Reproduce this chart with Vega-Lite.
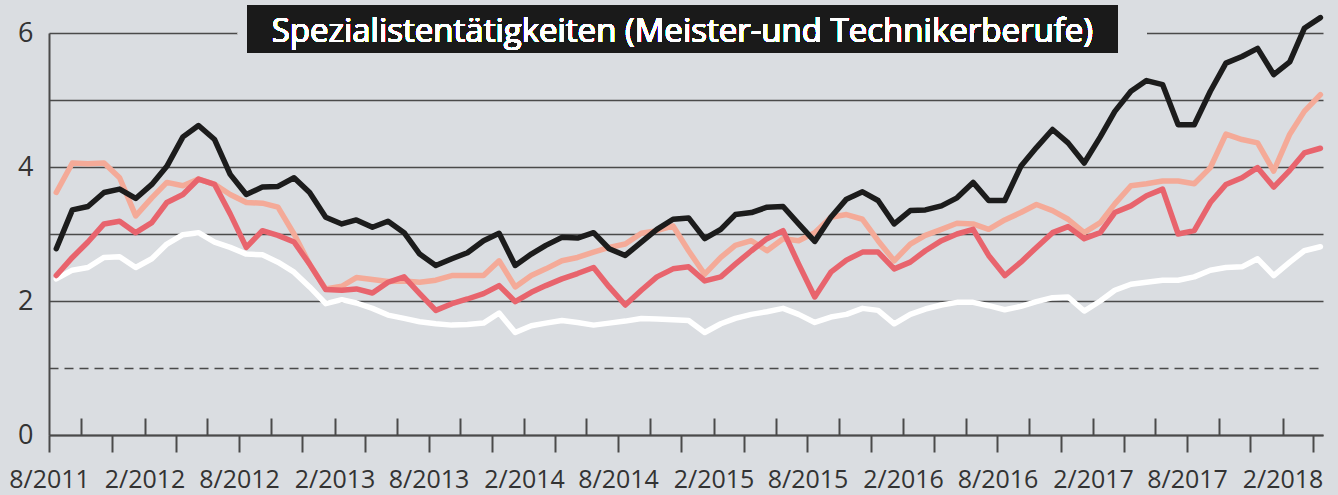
{
  "$schema": "https://vega.github.io/schema/vega-lite/v6.json",
  "autosize": {"type": "none"},
  "width": 1274,
  "height": 402,
  "padding": {"left": 49, "top": 33, "right": 15, "bottom": 60},
  "background": "#dadde1",
  "config": {"view": {"stroke": null}, "font": "Open Sans"},
  "resolve": {"axis": {"x": "independent"}},
  "data": {"values": [
    {"Monat":"2011/08/15","A":2.78,"B":3.62,"C":2.38,"D":2.33},
    {"Monat":"2011/09/15","A":3.36,"B":4.06,"C":2.65,"D":2.46},
    {"Monat":"2011/10/15","A":3.41,"B":4.05,"C":2.88,"D":2.50},
    {"Monat":"2011/11/15","A":3.62,"B":4.06,"C":3.15,"D":2.65},
    {"Monat":"2011/12/15","A":3.67,"B":3.84,"C":3.19,"D":2.66},
    {"Monat":"2012/01/15","A":3.53,"B":3.27,"C":3.02,"D":2.50},
    {"Monat":"2012/02/15","A":3.74,"B":3.54,"C":3.17,"D":2.63},
    {"Monat":"2012/03/15","A":4.01,"B":3.77,"C":3.47,"D":2.85},
    {"Monat":"2012/04/15","A":4.45,"B":3.72,"C":3.59,"D":2.99},
    {"Monat":"2012/05/15","A":4.62,"B":3.82,"C":3.82,"D":3.02},
    {"Monat":"2012/06/15","A":4.41,"B":3.74,"C":3.74,"D":2.88},
    {"Monat":"2012/07/15","A":3.89,"B":3.59,"C":3.30,"D":2.80},
    {"Monat":"2012/08/15","A":3.59,"B":3.47,"C":2.80,"D":2.70},
    {"Monat":"2012/09/15","A":3.70,"B":3.46,"C":3.05,"D":2.69},
    {"Monat":"2012/10/15","A":3.71,"B":3.40,"C":2.98,"D":2.58},
    {"Monat":"2012/11/15","A":3.84,"B":3.00,"C":2.88,"D":2.43},
    {"Monat":"2012/12/15","A":3.62,"B":2.55,"C":2.55,"D":2.21},
    {"Monat":"2013/01/15","A":3.25,"B":2.18,"C":2.17,"D":1.96},
    {"Monat":"2013/02/15","A":3.15,"B":2.22,"C":2.16,"D":2.02},
    {"Monat":"2013/03/15","A":3.21,"B":2.35,"C":2.18,"D":1.97},
    {"Monat":"2013/04/15","A":3.10,"B":2.32,"C":2.12,"D":1.89},
    {"Monat":"2013/05/15","A":3.19,"B":2.29,"C":2.28,"D":1.79},
    {"Monat":"2013/06/15","A":3.02,"B":2.30,"C":2.36,"D":1.74},
    {"Monat":"2013/07/15","A":2.70,"B":2.28,"C":2.11,"D":1.69},
    {"Monat":"2013/08/15","A":2.53,"B":2.31,"C":1.86,"D":1.66},
    {"Monat":"2013/09/15","A":2.63,"B":2.38,"C":1.96,"D":1.64},
    {"Monat":"2013/10/15","A":2.72,"B":2.38,"C":2.03,"D":1.65},
    {"Monat":"2013/11/15","A":2.90,"B":2.38,"C":2.11,"D":1.67},
    {"Monat":"2013/12/15","A":3.01,"B":2.60,"C":2.23,"D":1.82},
    {"Monat":"2014/01/15","A":2.53,"B":2.21,"C":1.99,"D":1.53},
    {"Monat":"2014/02/15","A":2.70,"B":2.38,"C":2.13,"D":1.63},
    {"Monat":"2014/03/15","A":2.83,"B":2.48,"C":2.23,"D":1.67},
    {"Monat":"2014/04/15","A":2.95,"B":2.60,"C":2.33,"D":1.71},
    {"Monat":"2014/05/15","A":2.94,"B":2.65,"C":2.41,"D":1.68},
    {"Monat":"2014/06/15","A":3.02,"B":2.73,"C":2.50,"D":1.64},
    {"Monat":"2014/07/15","A":2.78,"B":2.80,"C":2.21,"D":1.67},
    {"Monat":"2014/08/15","A":2.68,"B":2.85,"C":1.94,"D":1.70},
    {"Monat":"2014/09/15","A":2.88,"B":3.01,"C":2.16,"D":1.74},
    {"Monat":"2014/10/15","A":3.07,"B":3.05,"C":2.36,"D":1.73},
    {"Monat":"2014/11/15","A":3.22,"B":3.12,"C":2.48,"D":1.72},
    {"Monat":"2014/12/15","A":3.24,"B":2.75,"C":2.51,"D":1.71},
    {"Monat":"2015/01/15","A":2.93,"B":2.40,"C":2.30,"D":1.53},
    {"Monat":"2015/02/15","A":3.07,"B":2.65,"C":2.36,"D":1.66},
    {"Monat":"2015/03/15","A":3.29,"B":2.83,"C":2.55,"D":1.74},
    {"Monat":"2015/04/15","A":3.32,"B":2.90,"C":2.75,"D":1.80},
    {"Monat":"2015/05/15","A":3.40,"B":2.75,"C":2.93,"D":1.84},
    {"Monat":"2015/06/15","A":3.41,"B":2.93,"C":3.05,"D":1.89},
    {"Monat":"2015/07/15","A":3.15,"B":2.90,"C":2.55,"D":1.80},
    {"Monat":"2015/08/15","A":2.89,"B":3.02,"C":2.06,"D":1.68},
    {"Monat":"2015/09/15","A":3.25,"B":3.25,"C":2.43,"D":1.76},
    {"Monat":"2015/10/15","A":3.52,"B":3.29,"C":2.61,"D":1.80},
    {"Monat":"2015/11/15","A":3.63,"B":3.22,"C":2.73,"D":1.89},
    {"Monat":"2015/12/15","A":3.50,"B":2.90,"C":2.73,"D":1.86},
    {"Monat":"2016/01/15","A":3.15,"B":2.60,"C":2.48,"D":1.66},
    {"Monat":"2016/02/15","A":3.35,"B":2.85,"C":2.58,"D":1.80},
    {"Monat":"2016/03/15","A":3.36,"B":2.98,"C":2.75,"D":1.88},
    {"Monat":"2016/04/15","A":3.42,"B":3.07,"C":2.90,"D":1.94},
    {"Monat":"2016/05/15","A":3.54,"B":3.16,"C":3.00,"D":1.98},
    {"Monat":"2016/06/15","A":3.77,"B":3.15,"C":3.07,"D":1.98},
    {"Monat":"2016/07/15","A":3.50,"B":3.07,"C":2.68,"D":1.93},
    {"Monat":"2016/08/15","A":3.50,"B":3.21,"C":2.38,"D":1.87},
    {"Monat":"2016/09/15","A":4.01,"B":3.32,"C":2.58,"D":1.92},
    {"Monat":"2016/10/15","A":4.29,"B":3.44,"C":2.80,"D":1.99},
    {"Monat":"2016/11/15","A":4.56,"B":3.35,"C":3.02,"D":2.05},
    {"Monat":"2016/12/15","A":4.36,"B":3.22,"C":3.11,"D":2.06},
    {"Monat":"2017/01/15","A":4.06,"B":3.02,"C":2.93,"D":1.85},
    {"Monat":"2017/02/15","A":4.45,"B":3.17,"C":3.02,"D":2.00},
    {"Monat":"2017/03/15","A":4.83,"B":3.45,"C":3.32,"D":2.16},
    {"Monat":"2017/04/15","A":5.13,"B":3.72,"C":3.42,"D":2.25},
    {"Monat":"2017/05/15","A":5.29,"B":3.75,"C":3.57,"D":2.28},
    {"Monat":"2017/06/15","A":5.23,"B":3.79,"C":3.67,"D":2.31},
    {"Monat":"2017/07/15","A":4.63,"B":3.79,"C":3.00,"D":2.31},
    {"Monat":"2017/08/15","A":4.63,"B":3.75,"C":3.05,"D":2.36},
    {"Monat":"2017/09/15","A":5.13,"B":3.99,"C":3.47,"D":2.46},
    {"Monat":"2017/10/15","A":5.55,"B":4.49,"C":3.74,"D":2.50},
    {"Monat":"2017/11/15","A":5.65,"B":4.41,"C":3.84,"D":2.51},
    {"Monat":"2017/12/15","A":5.77,"B":4.36,"C":3.99,"D":2.63},
    {"Monat":"2018/01/15","A":5.38,"B":3.94,"C":3.70,"D":2.38},
    {"Monat":"2018/02/15","A":5.57,"B":4.49,"C":3.95,"D":2.58},
    {"Monat":"2018/03/15","A":6.07,"B":4.83,"C":4.21,"D":2.75},
    {"Monat":"2018/04/15","A":6.23,"B":5.08,"C":4.28,"D":2.81}
  ]},
  "layer": [
    {
      "transform": [{"fold": ["D", "B", "C", "A"], "as": ["Reihe", "Wert"]}],
      "mark": {"type": "line", "strokeWidth": 5.5, "strokeJoin": "round", "strokeCap": "round"},
      "encoding": {
        "x": {
          "field": "Monat", "type": "temporal",
          "scale": {"domain": [{"year": 2011, "month": 8, "date": 1}, {"year": 2018, "month": 4, "date": 20}]},
          "axis": {
            "orient": "bottom", "title": null, "grid": false, "labels": false,
            "values": [
              {"year":2011,"month":8,"date":1},{"year":2011,"month":12,"date":1},
              {"year":2012,"month":4,"date":1},{"year":2012,"month":8,"date":1},{"year":2012,"month":12,"date":1},
              {"year":2013,"month":4,"date":1},{"year":2013,"month":8,"date":1},{"year":2013,"month":12,"date":1},
              {"year":2014,"month":4,"date":1},{"year":2014,"month":8,"date":1},{"year":2014,"month":12,"date":1},
              {"year":2015,"month":4,"date":1},{"year":2015,"month":8,"date":1},{"year":2015,"month":12,"date":1},
              {"year":2016,"month":4,"date":1},{"year":2016,"month":8,"date":1},{"year":2016,"month":12,"date":1},
              {"year":2017,"month":4,"date":1},{"year":2017,"month":8,"date":1},{"year":2017,"month":12,"date":1},
              {"year":2018,"month":4,"date":1}
            ],
            "tickSize": 17, "tickColor": "#4a4a4a", "tickWidth": 2,
            "domainColor": "#4a4a4a", "domainWidth": 2
          }
        },
        "y": {
          "field": "Wert", "type": "quantitative",
          "scale": {"domain": [0, 6], "nice": false, "zero": true},
          "axis": {
            "title": null, "values": [0, 1, 2, 3, 4, 5, 6], "format": "d",
            "labelExpr": "datum.value % 2 == 0 ? datum.label : ''",
            "ticks": false, "labelPadding": 16,
            "labelFont": "Open Sans", "labelFontSize": 27, "labelColor": "#333333",
            "domainColor": "#4a4a4a", "domainWidth": 2,
            "grid": true, "gridColor": "#4a4a4a", "gridWidth": 1.6,
            "gridDash": {"condition": {"test": "datum.value == 1", "value": [9, 6]}, "value": []}
          }
        },
        "color": {
          "field": "Reihe", "type": "nominal",
          "scale": {"domain": ["D", "B", "C", "A"], "range": ["#ffffff", "#f4aa98", "#e8646d", "#1c1c1c"]},
          "legend": null
        }
      }
    },
    {
      "mark": {"type": "rect", "fill": "#dadde1"},
      "encoding": {
        "x": {
          "datum": {"year": 2012, "month": 7, "date": 30}, "type": "temporal",
          "axis": {
            "orient": "bottom", "title": null, "grid": false, "labels": false, "domain": false,
            "values": [
              {"year":2011,"month":10,"date":1},
              {"year":2012,"month":2,"date":1},{"year":2012,"month":6,"date":1},{"year":2012,"month":10,"date":1},
              {"year":2013,"month":2,"date":1},{"year":2013,"month":6,"date":1},{"year":2013,"month":10,"date":1},
              {"year":2014,"month":2,"date":1},{"year":2014,"month":6,"date":1},{"year":2014,"month":10,"date":1},
              {"year":2015,"month":2,"date":1},{"year":2015,"month":6,"date":1},{"year":2015,"month":10,"date":1},
              {"year":2016,"month":2,"date":1},{"year":2016,"month":6,"date":1},{"year":2016,"month":10,"date":1},
              {"year":2017,"month":2,"date":1},{"year":2017,"month":6,"date":1},{"year":2017,"month":10,"date":1},
              {"year":2018,"month":2,"date":1}
            ],
            "tickSize": -17, "tickColor": "#4a4a4a", "tickWidth": 2
          }
        },
        "x2": {"datum": {"year": 2017, "month": 5, "date": 16}},
        "y": {"datum": 5.94, "type": "quantitative"},
        "y2": {"datum": 6.06}
      }
    },
    {
      "mark": {"type": "rect", "fill": "#1a1a1a"},
      "encoding": {
        "x": {"datum": {"year": 2012, "month": 8, "date": 17}, "type": "temporal", "axis": null},
        "x2": {"datum": {"year": 2017, "month": 3, "date": 21}},
        "y": {"datum": 6.418, "type": "quantitative"},
        "y2": {"datum": 5.701}
      }
    },
    {
      "mark": {"type": "text", "font": "Open Sans", "fontSize": 33, "fontWeight": 400, "fill": "#ffffff", "stroke": null, "align": "center", "baseline": "alphabetic"},
      "encoding": {
        "x": {
          "datum": {"year": 2014, "month": 12, "date": 3}, "type": "temporal",
          "axis": {
            "orient": "bottom", "title": null, "grid": false, "ticks": false, "domain": false,
            "values": [
              {"year":2011,"month":8,"date":1},{"year":2012,"month":2,"date":1},{"year":2012,"month":8,"date":1},
              {"year":2013,"month":2,"date":1},{"year":2013,"month":8,"date":1},{"year":2014,"month":2,"date":1},
              {"year":2014,"month":8,"date":1},{"year":2015,"month":2,"date":1},{"year":2015,"month":8,"date":1},
              {"year":2016,"month":2,"date":1},{"year":2016,"month":8,"date":1},{"year":2017,"month":2,"date":1},
              {"year":2017,"month":8,"date":1},{"year":2018,"month":2,"date":1}
            ],
            "labelExpr": "(month(datum.value) + 1) + '/' + year(datum.value)",
            "labelOverlap": false, "labelFlush": false, "labelBound": false,
            "labelFont": "Open Sans", "labelFontSize": 25, "labelColor": "#333333", "labelPadding": 32
          }
        },
        "y": {"datum": 5.866, "type": "quantitative"},
        "text": {"value": "Spezialistentätigkeiten (Meister-und Technikerberufe)"}
      }
    }
  ]
}
